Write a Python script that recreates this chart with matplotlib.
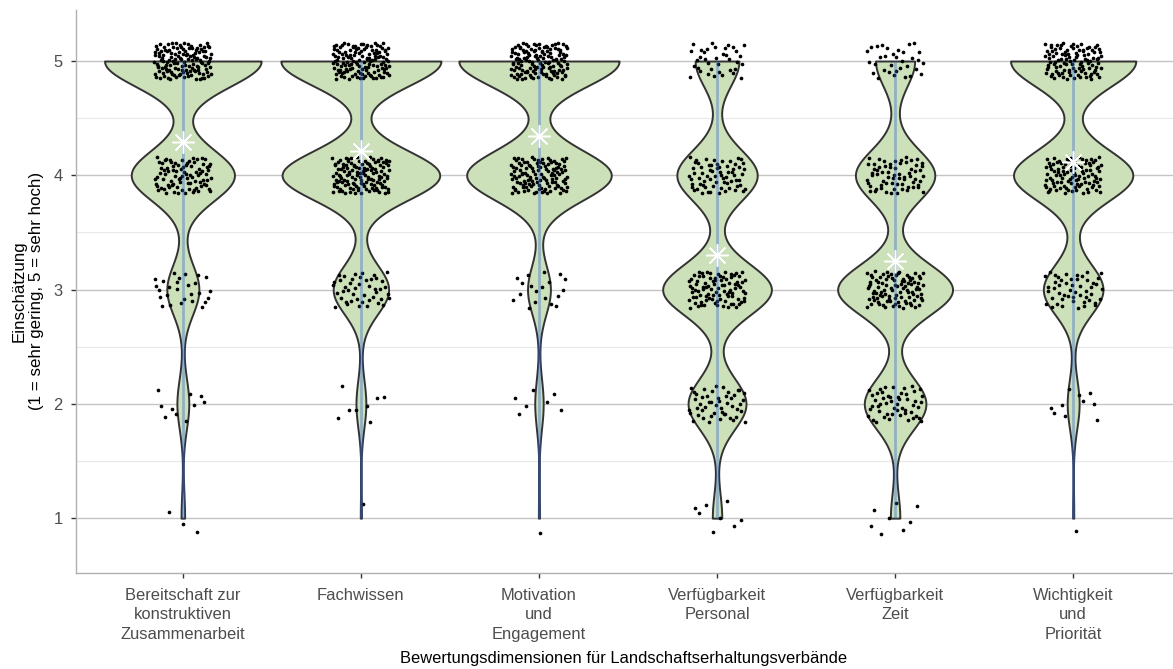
import numpy as np
import matplotlib
matplotlib.use("Agg")
import matplotlib.pyplot as plt

# antwortverteilung je dimension (anzahl nennungen für stufe 1..5)
categories = [
    "Bereitschaft zur\nkonstruktiven\nZusammenarbeit",
    "Fachwissen",
    "Motivation\nund\nEngagement",
    "Verfügbarkeit\nPersonal",
    "Verfügbarkeit\nZeit",
    "Wichtigkeit\nund\nPriorität",
]
levels = [1, 2, 3, 4, 5]
counts_bereitschaft = [3, 10, 27, 87, 132]
counts_fachwissen = [1, 8, 45, 128, 130]
counts_motivation = [1, 7, 19, 120, 133]
counts_personal = [8, 49, 92, 68, 37]
counts_zeit = [8, 52, 97, 67, 33]
counts_wichtigkeit = [1, 10, 50, 100, 105]
all_counts = [counts_bereitschaft, counts_fachwissen, counts_motivation,
              counts_personal, counts_zeit, counts_wichtigkeit]

y_ticks = [1, 2, 3, 4, 5]
x_title = "Bewertungsdimensionen für Landschaftserhaltungsverbände"
y_title = "Einschätzung\n(1 = sehr gering, 5 = sehr hoch)"

plt.rcParams['font.family'] = ['Liberation Sans', 'DejaVu Sans']

FILL = "#cce0b9"
EDGE = "#333333"
LINE_BLUE = "#3a6bd0"


def halton(i, b):
    f, r = 1.0, 0.0
    while i > 0:
        f /= b
        r += f * (i % b)
        i //= b
    return r


def bw_nrd0(values):
    sd = np.std(values, ddof=1)
    iqr = np.percentile(values, 75) - np.percentile(values, 25)
    lo = min(sd, iqr / 1.34) if iqr > 0 else sd
    return 0.9 * lo * len(values) ** -0.2


grid = np.linspace(1, 5, 512)
dens = []
samples = []
for cnt in all_counts:
    vals = np.repeat(levels, cnt).astype(float)
    samples.append(vals)
    bw = bw_nrd0(vals)
    d = np.zeros_like(grid)
    for lv, c in zip(levels, cnt):
        d += c * np.exp(-0.5 * ((grid - lv) / bw) ** 2)
    # scale = "count": dichte mal n
    d /= bw * np.sqrt(2 * np.pi)
    dens.append(d)
dmax = max(d.max() for d in dens)

fig = plt.figure(figsize=(11.73, 6.69), dpi=100)
ax = fig.add_axes([76 / 1173, (669 - 573) / 669, (1180 - 76) / 1173, (573 - 9.6) / 669])

for i, (vals, d) in enumerate(zip(samples, dens)):
    pos = i + 1
    w = 0.45 * d / dmax
    ax.fill_betweenx(grid, pos - w, pos + w, facecolor=FILL, edgecolor=EDGE,
                     linewidth=1.4, zorder=2)
    # jitter mit halton-folge
    idx = np.arange(len(vals)) + 1 + i * 400
    jx = np.array([halton(k, 2) for k in idx]) - 0.5
    jy = np.array([halton(k, 3) for k in idx]) - 0.5
    ax.scatter(pos + jx * 0.32, vals + jy * 0.32, s=7, color="black",
               linewidths=0, zorder=3)
    ax.plot([pos, pos], [vals.min(), vals.max()], color=LINE_BLUE, alpha=0.4,
            linewidth=2, solid_capstyle="butt", zorder=4)
    ax.plot(pos, vals.mean(), marker=(8, 2, 0), markersize=16, color="white",
            markeredgecolor="white", markeredgewidth=1.1, zorder=5)

ax.set_xlim(0.4, 6.6)
ax.set_ylim(0.52, 5.45)
ax.set_xticks(range(1, len(categories) + 1))
ax.set_xticklabels(categories, fontsize=11.9, color="#4d4d4d", linespacing=1.4)
ax.set_yticks(y_ticks)
ax.set_yticklabels([str(t) for t in y_ticks], fontsize=11.9, color="#4d4d4d")
ax.set_yticks([1.5, 2.5, 3.5, 4.5], minor=True)
ax.tick_params(axis="both", which="major", length=3.5, width=1, color="#333333")
ax.tick_params(axis="x", which="major", pad=7)
ax.tick_params(axis="y", which="major", pad=6)
ax.tick_params(axis="y", which="minor", length=0)
ax.grid(axis="y", which="major", color="#c4c4c4", linewidth=1)
ax.grid(axis="y", which="minor", color="#e8e8e8", linewidth=0.8)
ax.grid(axis="x", visible=False)
ax.set_axisbelow(True)
for s in ["top", "right"]:
    ax.spines[s].set_visible(False)
for s in ["left", "bottom"]:
    ax.spines[s].set_color("#b0b0b0")
    ax.spines[s].set_linewidth(1)

fig.text(624 / 1173, 1 - 658 / 669, x_title, ha="center", va="center", fontsize=11.9)
fig.text(28 / 1173, 1 - 291 / 669, y_title, ha="center", va="center", rotation=90,
         fontsize=12.2, linespacing=1.2)

fig.savefig("out.png", dpi=100)
